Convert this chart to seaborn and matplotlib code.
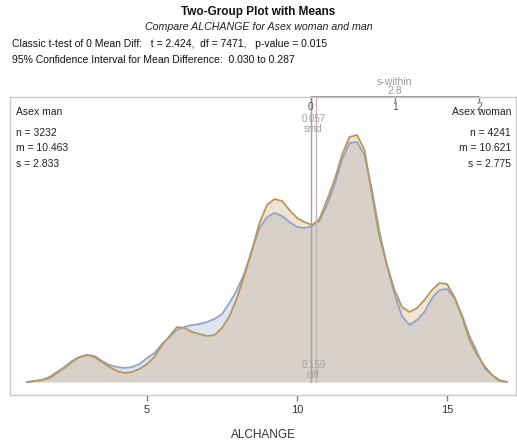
"""
Two-group density plot with means (ALCHANGE by gender).
"""

import matplotlib.pyplot as plt
import numpy as np
import pandas as pd
import seaborn as sns


# x grid of ALCHANGE values and density heights
ALCHANGE = np.arange(1.0, 17.01, 0.25)

DENS_MAN = [
    0, 1, 2, 5, 10, 15, 21, 25, 27, 26, 21, 17, 15, 14, 15, 18,
    24, 29, 38, 45, 52, 55, 57, 58, 60, 63, 68, 79, 92, 109, 132, 154,
    165, 169, 166, 160, 155, 154, 156, 161, 177, 197, 222, 239, 240, 227, 192, 150,
    116, 88, 66, 57, 62, 70, 84, 92, 93, 84, 67, 46, 30, 14, 7, 2, 0,
]

DENS_WOMAN = [
    0, 1, 2, 4, 9, 14, 20, 25, 27, 25, 20, 15, 11, 9, 10, 13,
    18, 25, 37, 46, 55, 54, 50, 48, 46, 47, 54, 66, 84, 107, 132, 159,
    177, 183, 181, 172, 164, 160, 157, 163, 182, 202, 227, 245, 247, 232, 187, 145,
    117, 92, 75, 70, 74, 82, 92, 99, 98, 85, 65, 42, 27, 16, 7, 1, 0,
]

GROUPS = ["Asex man", "Asex woman"]
N_OBS = [3232, 4241]
MEANS = [10.463, 10.621]
SDS = [2.833, 2.775]
S_WITHIN = 2.8
SMD = 0.057
DIFF = 0.159

TITLE = "Two-Group Plot with Means"
SUBTITLE = "Compare ALCHANGE for Asex woman and man"
TTEST_LINE = ("Classic t-test of 0 Mean Diff:   t = 2.424,  df = 7471,"
              "   p-value = 0.015")
CI_LINE = "95% Confidence Interval for Mean Difference:  0.030 to 0.287"

LINE_COLORS = ["#93a2c6", "#b8975a"]
FILL_COLORS = [(0.55, 0.62, 0.80), (0.76, 0.62, 0.38)]
MEAN_LINE_COLORS = ["#9aa0b4", "#c9b4b4"]


def build_dataframe() -> pd.DataFrame:
    frames = []
    for group, dens in zip(GROUPS, [DENS_MAN, DENS_WOMAN]):
        frames.append(pd.DataFrame({
            "ALCHANGE": ALCHANGE,
            "density": np.array(dens) / 1000.0,
            "group": group,
        }))
    return pd.concat(frames, ignore_index=True)


def main() -> None:
    sns.set_theme(style="white")
    plt.rcParams["font.family"] = ["Liberation Sans", "DejaVu Sans"]

    df = build_dataframe()

    fig = plt.figure(figsize=(5.17, 4.44), dpi=100)
    ax = fig.add_axes([10 / 517, 1 - 395 / 444, 506 / 517, 298 / 444])

    # filled densities
    for group, fill in zip(GROUPS, FILL_COLORS):
        sub = df[df["group"] == group]
        ax.fill_between(sub["ALCHANGE"], 0, sub["density"],
                        color=fill, alpha=0.27, linewidth=0)

    sns.lineplot(data=df, x="ALCHANGE", y="density", hue="group",
                 palette=LINE_COLORS, linewidth=1.3, legend=False, ax=ax)
    for line in ax.get_lines():
        line.set_solid_joinstyle("round")

    ax.set_xlim(0.433, 17.3)
    ax.set_ylim(-0.013, 0.285)

    # mean lines
    for mean, col in zip(MEANS, MEAN_LINE_COLORS):
        ax.axvline(mean, ymin=0.013 / 0.298, ymax=1, color=col, linewidth=1)

    mid = (MEANS[0] + MEANS[1]) / 2
    ax.text(mid, 0.268, f"{SMD:.3f}\nsmd", ha="center", va="top",
            fontsize=7, color="#a0a0a0", linespacing=1.0)
    ax.text(mid, 0.002, f"{DIFF:.3f}\ndiff", ha="center", va="bottom",
            fontsize=7, color="#a0a0a0", linespacing=1.0)

    # s-within scale along the top
    trans = ax.get_xaxis_transform()
    top_ticks = [MEANS[0] + k * S_WITHIN for k in range(3)]
    ax.plot([top_ticks[0], top_ticks[-1]], [1, 1], transform=trans,
            color="#808080", linewidth=1.2, clip_on=False)
    for k, pos in enumerate(top_ticks):
        ax.plot([pos, pos], [1, 0.985], transform=trans,
                color="#808080", linewidth=1, clip_on=False)
        ax.text(pos, 0.982, str(k), transform=trans, ha="center", va="top",
                fontsize=7.5, color="#555555")
    ax.text(top_ticks[1], 1.005, f"s-within\n{S_WITHIN}", transform=trans,
            ha="center", va="bottom", fontsize=7.5, color="#999999",
            linespacing=0.8)

    # group summaries
    for side, group, n, m, s in zip(["left", "right"], GROUPS, N_OBS,
                                    MEANS, SDS):
        x = 0.012 if side == "left" else 0.99
        lines = [group, f"n = {n}", f"m = {m:.3f}", f"s = {s:.3f}"]
        for i, txt in enumerate(lines):
            y = 0.965 if i == 0 else 0.897 - (i - 1) * 0.053
            ax.text(x, y, txt, transform=ax.transAxes,
                    ha=side, va="top", fontsize=7.5, color="#222222")

    # axes styling
    for spine in ax.spines.values():
        spine.set_color("#c8c8c8")
        spine.set_linewidth(1)
    ax.set_yticks([])
    ax.set_xticks([5, 10, 15])
    ax.tick_params(axis="x", length=4, width=1, color="#808080",
                   labelsize=8, labelcolor="#333333", pad=3, bottom=True)
    ax.set_xlabel("ALCHANGE", fontsize=8.5, color="#333333", labelpad=10)
    ax.set_ylabel("")

    fig.text(0.5, 1 - 12 / 444, TITLE, ha="center", va="center",
             fontsize=8.5, fontweight="bold", color="#111111")
    fig.text(0.5, 1 - 27 / 444, SUBTITLE, ha="center", va="center",
             fontsize=7.7, style="italic", color="#222222")
    fig.text(12 / 517, 1 - 44 / 444, TTEST_LINE, ha="left", va="center",
             fontsize=7.5, color="#111111")
    fig.text(12 / 517, 1 - 60 / 444, CI_LINE, ha="left", va="center",
             fontsize=7.5, color="#111111")

    fig.savefig("out.png", dpi=100)


if __name__ == "__main__":
    main()
